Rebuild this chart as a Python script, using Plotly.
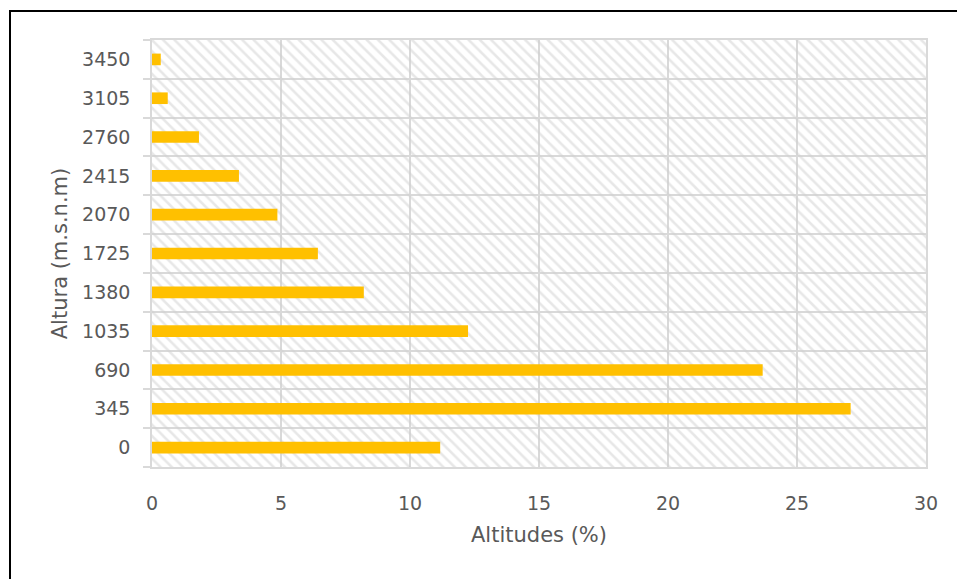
import plotly.graph_objects as go

# Altitude classes (m.s.n.m) and share of area in each (%)
alturas = ["0", "345", "690", "1035", "1380", "1725", "2070", "2415", "2760", "3105", "3450"]
porcentaje = [11.17, 27.08, 23.67, 12.25, 8.21, 6.43, 4.86, 3.37, 1.82, 0.61, 0.34]
x_max = 30
x_ticks = [0, 5, 10, 15, 20, 25, 30]

GRID = "#d9d9d9"
TEXT = "#595959"
FONT = "DejaVu Sans"

fig = go.Figure()

# Hatched plot-area fill, one full-width band per category
fig.add_trace(go.Bar(
    x=[x_max] * len(alturas),
    y=alturas,
    orientation="h",
    width=1,
    marker=dict(
        color="rgba(0,0,0,0)",
        line=dict(width=0),
        pattern=dict(shape="\\", size=8, solidity=0.32,
                     fgcolor="#d0d0d0", bgcolor="rgba(0,0,0,0)",
                     fillmode="overlay"),
    ),
    hoverinfo="skip",
    showlegend=False,
))

fig.add_trace(go.Bar(
    x=porcentaje,
    y=alturas,
    orientation="h",
    width=0.3,
    marker=dict(color="#FFC000", line=dict(width=0)),
    showlegend=False,
))

fig.update_layout(
    width=957,
    height=579,
    margin=dict(l=152, r=31, t=40, b=112),
    paper_bgcolor="white",
    plot_bgcolor="white",
    barmode="overlay",
    font=dict(family=FONT, color=TEXT, size=19),
    xaxis=dict(
        range=[0, x_max],
        tickvals=x_ticks,
        showgrid=True, gridcolor=GRID, gridwidth=1.5,
        zeroline=False,
        showline=True, linecolor=GRID, linewidth=1.5, mirror=True,
        ticks="", ticklabelstandoff=18,
        tickfont=dict(size=19, color=TEXT),
        title=dict(text="Altitudes (%)", font=dict(size=21, color=TEXT), standoff=15),
        fixedrange=True,
    ),
    yaxis=dict(
        type="category",
        categoryorder="array", categoryarray=alturas,
        range=[-0.5, len(alturas) - 0.5],
        tickson="boundaries",
        showgrid=True, gridcolor=GRID, gridwidth=1.5,
        zeroline=False,
        showline=True, linecolor=GRID, linewidth=1.5, mirror=True,
        ticks="outside", ticklen=7, tickcolor=GRID, tickwidth=1.5,
        ticklabelstandoff=16,
        tickfont=dict(size=19, color=TEXT),
        title=dict(text="Altura (m.s.n.m)", font=dict(size=21, color=TEXT), standoff=9),
        fixedrange=True,
    ),
    shapes=[
        # outer black frame of the chart area
        dict(type="rect", xref="paper", yref="paper",
             x0=(10 - 152) / 774, x1=(965 - 152) / 774,
             y0=(467 - 590) / 427, y1=(467 - 11) / 427,
             line=dict(color="black", width=2), layer="above"),
    ],
)

fig.write_html("out.html")
